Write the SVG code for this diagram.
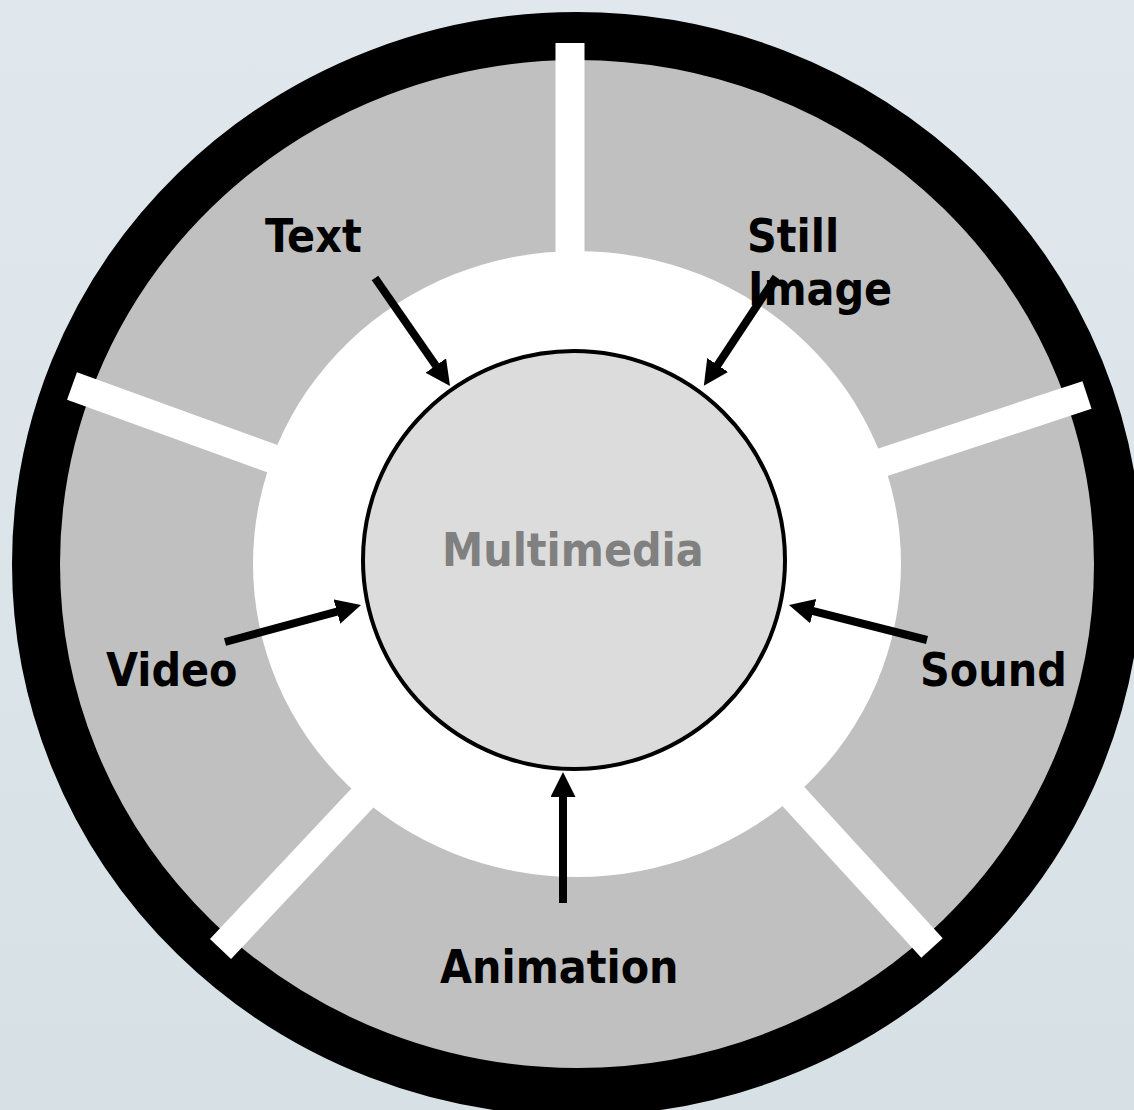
<svg xmlns="http://www.w3.org/2000/svg" width="1134" height="1110" viewBox="0 0 1134 1110">
  <defs>
    <linearGradient id="bg" x1="0" y1="0" x2="0" y2="1">
      <stop offset="0" stop-color="#e0e8ee"/>
      <stop offset="1" stop-color="#d7e1e5"/>
    </linearGradient>
    <marker id="ah" markerUnits="userSpaceOnUse" markerWidth="28" markerHeight="28" refX="3" refY="12.5" orient="auto">
      <path d="M0,0 L25,12.5 L0,25 Z" fill="#000"/>
    </marker>
    <style>
      .lbl { font-family: "DejaVu Sans Condensed", "DejaVu Sans", sans-serif; font-weight: bold; font-size: 46px; fill: #000; }
      .center { fill: #808080; }
      .spoke { stroke: #fff; stroke-width: 29; stroke-linecap: butt; }
      .conn { stroke: #000; stroke-width: 8; fill: none; marker-end: url(#ah); }
    </style>
  </defs>
  <rect width="1134" height="1110" fill="url(#bg)"/>

  <g id="wheel">
    <ellipse cx="577" cy="564" rx="541" ry="528" fill="#c0c0c0" stroke="#000" stroke-width="48"/>
    <ellipse cx="577" cy="564" rx="324" ry="313" fill="#fff"/>
    <line class="spoke" x1="570" y1="43" x2="570" y2="300"/>
    <line class="spoke" x1="72" y1="386" x2="320" y2="476"/>
    <line class="spoke" x1="1087" y1="395" x2="835" y2="478"/>
    <line class="spoke" x1="220.5" y1="949" x2="400" y2="758"/>
    <line class="spoke" x1="932" y1="948" x2="760" y2="760"/>
  </g>

  <g id="multimedia">
    <ellipse cx="574" cy="560" rx="211" ry="209" fill="#dcdcdc" stroke="#000" stroke-width="4"/>
    <text class="lbl center" x="442" y="566">Multimedia</text>
  </g>

  <g id="connectors">
    <line class="conn" x1="375" y1="278" x2="437.5" y2="368"/>
    <line class="conn" x1="776" y1="277" x2="716" y2="367.5"/>
    <line class="conn" x1="225" y1="642" x2="339.8" y2="610.8"/>
    <line class="conn" x1="927" y1="640" x2="810.3" y2="610.4"/>
    <line class="conn" x1="563" y1="903" x2="563" y2="794"/>
  </g>

  <g id="text"><text class="lbl" x="265" y="252">Text</text></g>
  <g id="still-image"><text class="lbl" x="747" y="252">Still</text><text class="lbl" x="748" y="305">Image</text></g>
  <g id="video"><text class="lbl" x="106" y="686">Video</text></g>
  <g id="sound"><text class="lbl" x="920" y="686">Sound</text></g>
  <g id="animation"><text class="lbl" x="440" y="983">Animation</text></g>
</svg>
